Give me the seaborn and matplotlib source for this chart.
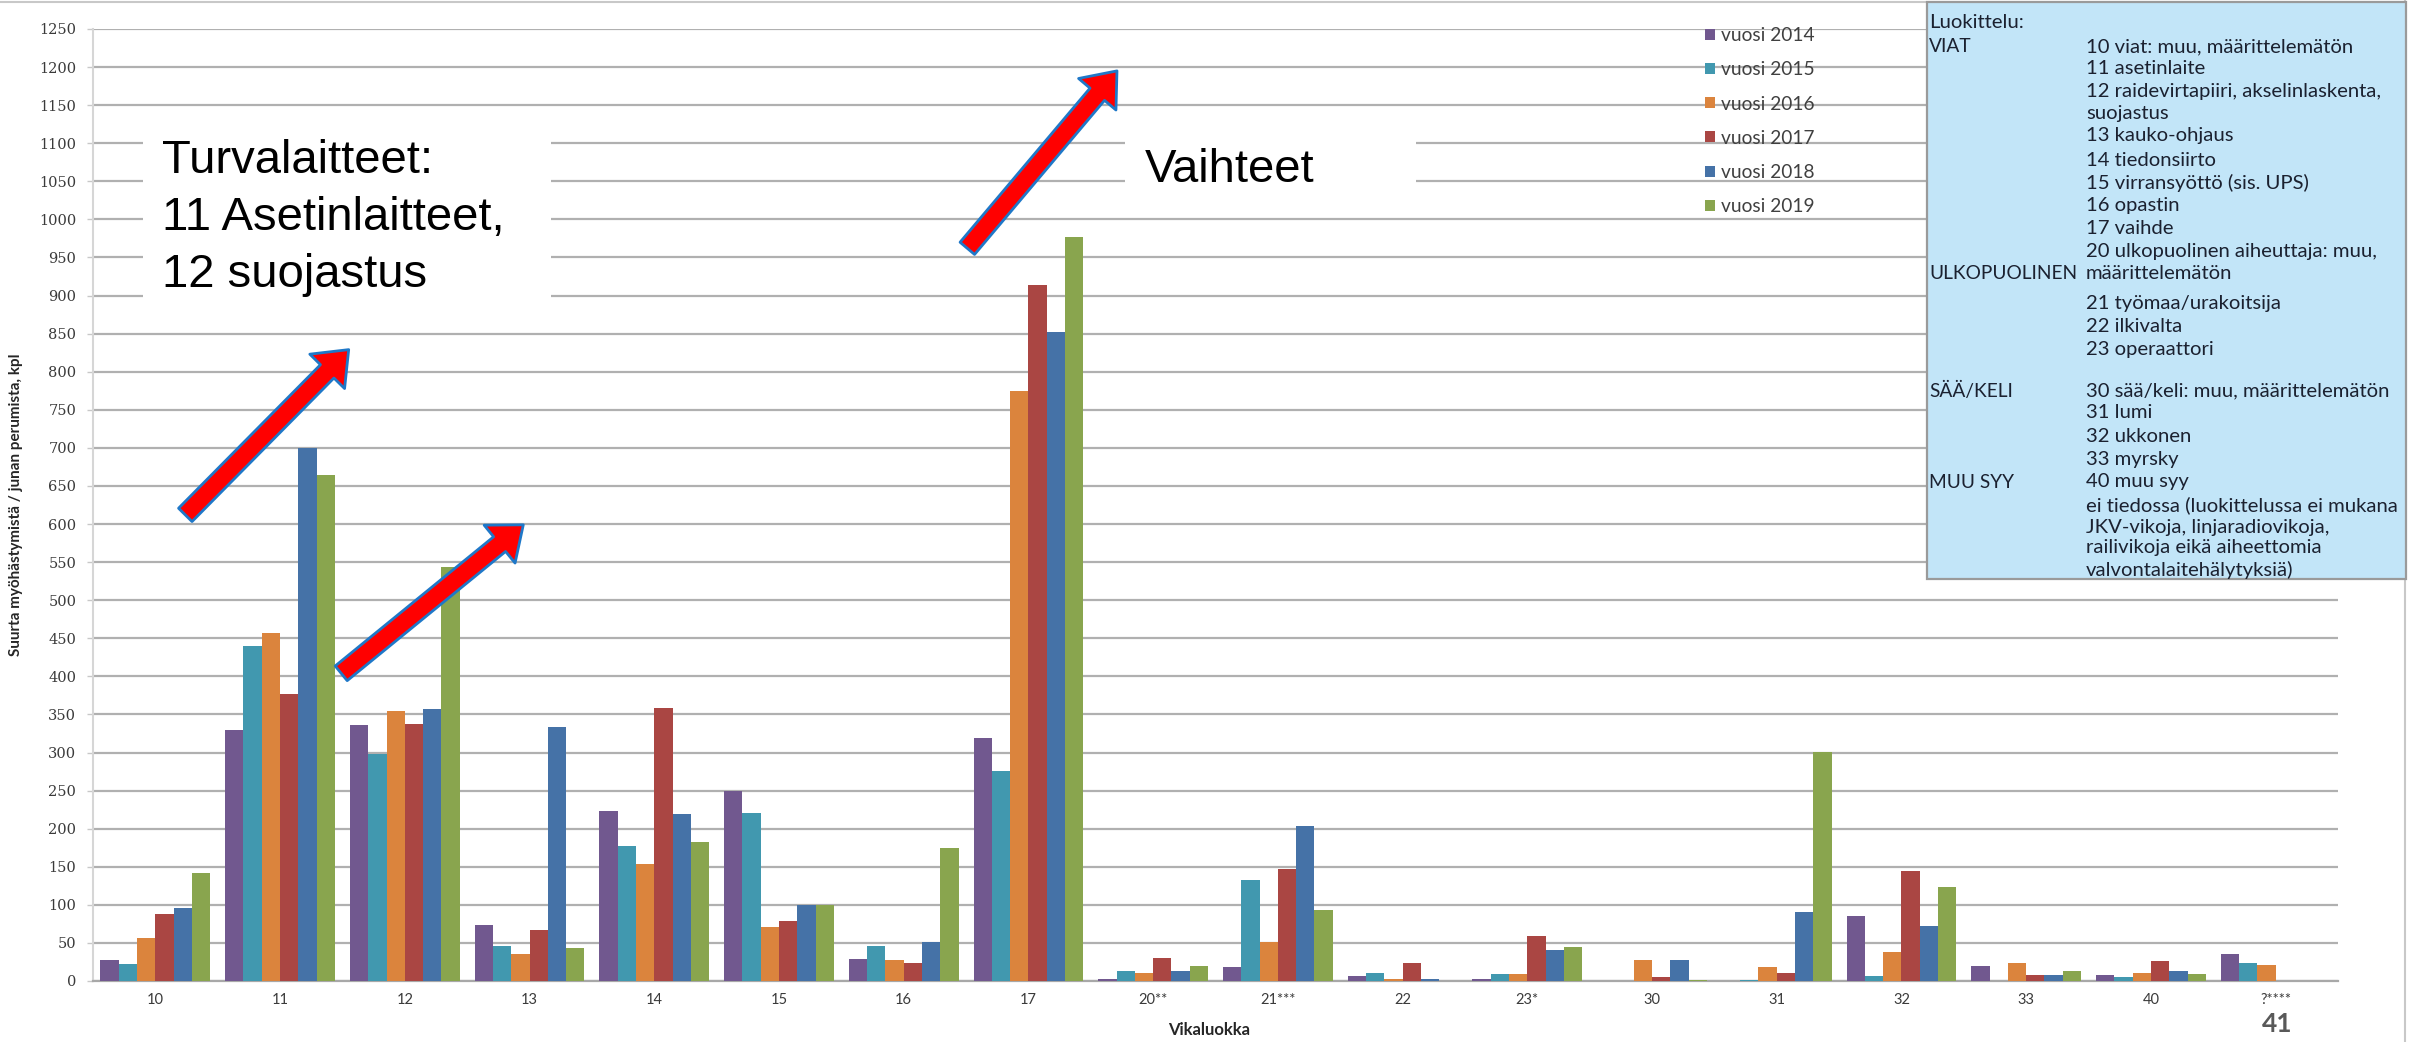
import matplotlib
matplotlib.use("Agg")
import matplotlib.pyplot as plt
import seaborn as sns
import pandas as pd
from matplotlib import font_manager as fm
from matplotlib.patches import Rectangle
from matplotlib.lines import Line2D

# ---------------- data ----------------
categories = ["10", "11", "12", "13", "14", "15", "16", "17", "20**", "21***",
              "22", "23*", "30", "31", "32", "33", "40", "?****"]
years = ["vuosi 2014", "vuosi 2015", "vuosi 2016", "vuosi 2017", "vuosi 2018", "vuosi 2019"]
v2014 = [28, 329, 336, 73, 223, 249, 29, 319, 3, 19, 6, 2, 0, 0, 85, 20, 8, 35]
v2015 = [22, 440, 298, 46, 177, 220, 46, 276, 13, 133, 10, 9, 0, 1, 6, 0, 5, 23]
v2016 = [57, 457, 354, 36, 153, 71, 28, 775, 10, 51, 3, 9, 28, 18, 38, 23, 10, 21]
v2017 = [88, 377, 338, 67, 359, 79, 24, 914, 30, 147, 23, 59, 5, 11, 144, 8, 26, 0]
v2018 = [96, 700, 357, 334, 219, 100, 51, 852, 13, 203, 2, 41, 27, 91, 72, 8, 13, 0]
v2019 = [142, 664, 544, 43, 183, 100, 175, 977, 20, 93, 0, 44, 1, 301, 124, 13, 9, 0]
colors = ["#71588F", "#4198AF", "#DB843D", "#AA4643", "#4572A7", "#89A54E"]
yticks = list(range(0, 1251, 50))

ylabel = "Suurta myöhästymistä / junan perumista, kpl"
xlabel = "Vikaluokka"

box_title = "Luokittelu:"
box_left = [("VIAT", 47), ("ULKOPUOLINEN", 273), ("SÄÄ/KELI", 391), ("MUU SYY", 482)]
box_right = [
    ("10 viat: muu, määrittelemätön", 47),
    ("11 asetinlaite", 69),
    ("12 raidevirtapiiri, akselinlaskenta,", 92),
    ("suojastus", 114),
    ("13 kauko-ohjaus", 136),
    ("14 tiedonsiirto", 160),
    ("15 virransyöttö (sis. UPS)", 183),
    ("16 opastin", 205),
    ("17 vaihde", 228),
    ("20 ulkopuolinen aiheuttaja: muu,", 251),
    ("määrittelemätön", 273),
    ("21 työmaa/urakoitsija", 304),
    ("22 ilkivalta", 326),
    ("23 operaattori", 350),
    ("30 sää/keli: muu, määrittelemätön", 391),
    ("31 lumi", 413),
    ("32 ukkonen", 436),
    ("33 myrsky", 459),
    ("40 muu syy", 482),
    ("ei tiedossa (luokittelussa ei mukana", 505),
    ("JKV-vikoja, linjaradiovikoja,", 527),
    ("railivikoja eikä aiheettomia", 548),
    ("valvontalaitehälytyksiä)", 570),
]

# ---------------- fonts ----------------
names = {f.name for f in fm.fontManager.ttflist}
def pick(*cands):
    for c in cands:
        if c in names:
            return c
    return "DejaVu Sans"

F_BODY = pick("Lato", "Open Sans", "DejaVu Sans")
F_BIG = pick("Liberation Sans", "DejaVu Sans")
F_NARROW = pick("Liberation Sans Narrow", "Lato", "DejaVu Sans")
F_SERIF = pick("DejaVu Serif", "Liberation Serif")
plt.rcParams["font.family"] = [F_BODY, "DejaVu Sans"]

# ---------------- figure ----------------
W, H = 2428, 1042
fig = plt.figure(figsize=(W / 100, H / 100), dpi=100)
fig.patch.set_facecolor("white")
def fx(x): return x / W
def fy(y): return 1 - y / H

ax = fig.add_axes([fx(93), fy(981), (2338 - 93) / W, (981 - 29) / H])

rows = []
for y, vals in zip(years, [v2014, v2015, v2016, v2017, v2018, v2019]):
    for c, v in zip(categories, vals):
        rows.append({"Vikaluokka": c, "vuosi": y, "arvo": v})
df = pd.DataFrame(rows)

sns.barplot(data=df, x="Vikaluokka", y="arvo", hue="vuosi", order=categories,
            hue_order=years, palette=colors, saturation=1, width=0.88,
            errorbar=None, ax=ax, zorder=3)

ax.set_xlim(-0.5, len(categories) - 0.5)
ax.set_ylim(0, 1250)
ax.set_yticks(yticks)
ax.set_yticklabels([str(t) for t in yticks], fontfamily=F_SERIF, fontsize=10.5, color="#3a3a3a")
ax.set_xticks(range(len(categories)))
ax.set_xticklabels(categories, fontfamily=F_NARROW, fontsize=10.5, color="#3a3a3a")
ax.tick_params(axis="x", length=0, pad=9)
ax.tick_params(axis="y", length=4, width=1, color="#c8c8c8", pad=8)

ax.yaxis.grid(True, color="#b0b0b0", linewidth=1.6)
ax.xaxis.grid(False)
ax.set_axisbelow(True)
for s in ["top", "right"]:
    ax.spines[s].set_visible(False)
ax.spines["left"].set_color("#d6d6d6")
ax.spines["left"].set_linewidth(1.5)
ax.spines["bottom"].set_color("#a8a8a8")
ax.spines["bottom"].set_linewidth(1.6)

ax.set_ylabel(ylabel, fontfamily=F_BODY, fontweight="bold", fontsize=11, color="#262626")
ax.yaxis.set_label_coords(-0.031, 0.5)
ax.set_xlabel(xlabel, fontfamily=F_BODY, fontweight="bold", fontsize=12, color="#262626")
ax.xaxis.label.set_va("center")
ax.xaxis.set_label_coords(0.497, -0.0515)

# legend
handles, labels = ax.get_legend_handles_labels()
leg = ax.legend(handles, labels, loc="upper left",
                bbox_to_anchor=(fx(1705), fy(27)), bbox_transform=fig.transFigure,
                frameon=False, fontsize=13.8, handlelength=0.5, handleheight=0.5,
                handletextpad=0.35, labelspacing=0.9, borderpad=0, borderaxespad=0)
for t in leg.get_texts():
    t.set_color("#404040")

# white text boxes behind the annotations
for (x0, y0, x1, y1) in [(143, 116, 551, 310), (1125, 115, 1416, 205)]:
    fig.add_artist(Rectangle((fx(x0), fy(y1)), fx(x1) - fx(x0), (y1 - y0) / H,
                             transform=fig.transFigure, facecolor="white",
                             edgecolor="none", zorder=4))
for txt, yb in [("Turvalaitteet:", 173), ("11 Asetinlaitteet,", 230), ("12 suojastus", 287)]:
    fig.text(fx(162), fy(yb), txt, fontfamily=F_BIG, fontsize=34, color="black",
             va="baseline", ha="left", zorder=5)
fig.text(fx(1145), fy(182), "Vaihteet", fontfamily=F_BIG, fontsize=34, color="black",
         va="baseline", ha="left", zorder=5)

# arrows
arrow_style = "simple,head_length=1.0,head_width=1.6,tail_width=0.62"
for tail, tip in [((0.24, 612), (1.55, 829)), ((1.49, 404), (2.95, 599)), ((6.51, 962), (7.71, 1195))]:
    ax.annotate("", xy=tip, xytext=tail,
                arrowprops=dict(arrowstyle=arrow_style, fc="#ff0000", ec="#1f78c8",
                                lw=2.0, shrinkA=0, shrinkB=0, mutation_scale=22),
                zorder=6, annotation_clip=False)

# info box
bx0, by0, bx1, by1 = 1927, 2, 2406, 579
fig.add_artist(Rectangle((fx(bx0), fy(by1)), fx(bx1) - fx(bx0), (by1 - by0) / H,
                         transform=fig.transFigure, facecolor="#C2E5F8",
                         edgecolor="#9a9a9a", linewidth=1.6, zorder=8))
tc = "#1b2130"
fs_box = 14.6
fig.text(fx(1929), fy(23), box_title, fontsize=fs_box, color=tc, va="center", ha="left", zorder=9)
for txt, yc in box_left:
    fig.text(fx(1929), fy(yc), txt, fontsize=13.8, color=tc, va="center", ha="left", zorder=9)
for txt, yc in box_right:
    fig.text(fx(2086), fy(yc), txt, fontsize=fs_box, color=tc, va="center", ha="left", zorder=9)

# page frame lines
fig.add_artist(Line2D([0, fx(2405)], [fy(2), fy(2)], transform=fig.transFigure,
                      color="#c8c8c8", lw=1.5, zorder=7))
fig.add_artist(Line2D([fx(2405), fx(2405)], [0, 1], transform=fig.transFigure,
                      color="#c8c8c8", lw=1.5, zorder=7))

# page number
fig.text(fx(2262), fy(1012), "41", fontsize=19, color="#595959", fontweight="bold",
         va="top", ha="left", zorder=9)

fig.savefig("out.png", dpi=100)
